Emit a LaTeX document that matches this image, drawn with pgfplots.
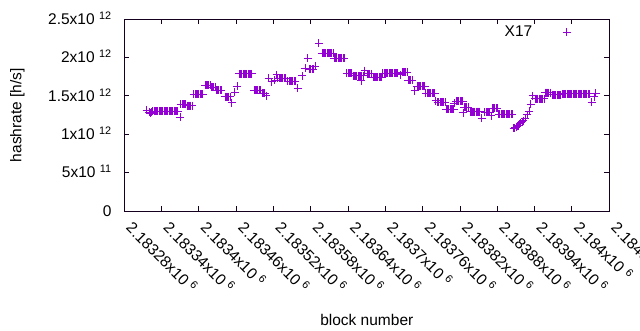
\documentclass[border=0pt]{standalone}
\usepackage{pgfplots}
\pgfplotsset{compat=1.18}
\usepackage{pgfplotstable}
\usepackage{fontspec}
\setmainfont{Liberation Sans}
\definecolor{gpviolet}{RGB}{148,0,211}
\definecolor{gpblack}{RGB}{22,0,32}
\pgfplotstableread{
x y
2183316 1.311e12
2183320 1.290e12
2183322 1.278e12
2183324 1.285e12
2183326 1.304e12
2183328 1.304e12
2183330 1.304e12
2183332 1.304e12
2183334 1.304e12
2183336 1.304e12
2183338 1.304e12
2183340 1.304e12
2183342 1.304e12
2183344 1.304e12
2183346 1.304e12
2183348 1.304e12
2183350 1.304e12
2183352 1.304e12
2183354 1.304e12
2183356 1.304e12
2183358 1.304e12
2183360 1.304e12
2183362 1.304e12
2183364 1.304e12
2183366 1.304e12
2183370 1.222e12
2183371 1.392e12
2183373 1.392e12
2183375 1.392e12
2183377 1.392e12
2183379 1.392e12
2183381 1.373e12
2183383 1.373e12
2183385 1.373e12
2183387 1.373e12
2183389 1.373e12
2183392 1.522e12
2183394 1.522e12
2183396 1.522e12
2183398 1.522e12
2183400 1.522e12
2183402 1.522e12
2183404 1.522e12
2183406 1.522e12
2183410 1.639e12
2183412 1.639e12
2183414 1.639e12
2183416 1.639e12
2183418 1.639e12
2183420 1.613e12
2183422 1.613e12
2183424 1.613e12
2183426 1.613e12
2183428 1.578e12
2183430 1.578e12
2183432 1.578e12
2183434 1.578e12
2183436 1.578e12
2183442 1.491e12
2183444 1.491e12
2183446 1.491e12
2183448 1.491e12
2183450 1.491e12
2183453 1.412e12
2183458 1.548e12
2183462 1.630e12
2183465 1.787e12
2183467 1.787e12
2183469 1.787e12
2183471 1.787e12
2183473 1.787e12
2183475 1.787e12
2183477 1.787e12
2183479 1.787e12
2183481 1.787e12
2183483 1.787e12
2183485 1.787e12
2183489 1.578e12
2183491 1.578e12
2183493 1.578e12
2183495 1.578e12
2183497 1.578e12
2183499 1.578e12
2183502 1.535e12
2183504 1.535e12
2183506 1.535e12
2183508 1.504e12
2183512 1.731e12
2183517 1.686e12
2183522 1.708e12
2183525 1.774e12
2183527 1.731e12
2183529 1.731e12
2183531 1.731e12
2183533 1.731e12
2183535 1.731e12
2183537 1.731e12
2183539 1.731e12
2183543 1.691e12
2183545 1.691e12
2183547 1.691e12
2183549 1.691e12
2183551 1.691e12
2183553 1.691e12
2183555 1.691e12
2183559 1.600e12
2183566 1.761e12
2183571 1.861e12
2183575 1.991e12
2183578 1.848e12
2183580 1.848e12
2183582 1.848e12
2183584 1.848e12
2183587 1.891e12
2183593 2.187e12
2183598 2.057e12
2183600 2.057e12
2183602 2.057e12
2183604 2.057e12
2183606 2.057e12
2183608 2.057e12
2183610 2.057e12
2183612 2.057e12
2183614 2.057e12
2183616 2.057e12
2183618 1.991e12
2183620 1.991e12
2183622 1.991e12
2183624 1.991e12
2183626 1.991e12
2183628 1.991e12
2183630 1.991e12
2183632 1.991e12
2183634 1.991e12
2183638 1.796e12
2183640 1.796e12
2183642 1.796e12
2183644 1.796e12
2183646 1.796e12
2183648 1.761e12
2183650 1.761e12
2183652 1.761e12
2183654 1.761e12
2183656 1.761e12
2183658 1.761e12
2183660 1.761e12
2183661 1.699e12
2183662 1.761e12
2183664 1.761e12
2183667 1.830e12
2183671 1.787e12
2183673 1.787e12
2183675 1.787e12
2183677 1.787e12
2183680 1.744e12
2183682 1.744e12
2183684 1.744e12
2183686 1.744e12
2183688 1.744e12
2183690 1.744e12
2183692 1.744e12
2183694 1.744e12
2183696 1.796e12
2183698 1.796e12
2183700 1.796e12
2183702 1.796e12
2183704 1.796e12
2183706 1.796e12
2183708 1.796e12
2183710 1.796e12
2183712 1.796e12
2183714 1.796e12
2183716 1.796e12
2183718 1.796e12
2183720 1.796e12
2183724 1.775e12
2183727 1.809e12
2183729 1.809e12
2183731 1.809e12
2183733 1.809e12
2183735 1.809e12
2183737 1.705e12
2183739 1.705e12
2183741 1.705e12
2183743 1.705e12
2183747 1.569e12
2183751 1.630e12
2183753 1.630e12
2183755 1.630e12
2183757 1.630e12
2183759 1.630e12
2183761 1.630e12
2183763 1.630e12
2183765 1.535e12
2183767 1.535e12
2183769 1.535e12
2183771 1.535e12
2183773 1.535e12
2183775 1.535e12
2183777 1.535e12
2183779 1.535e12
2183781 1.440e12
2183784 1.418e12
2183786 1.418e12
2183788 1.418e12
2183790 1.418e12
2183792 1.418e12
2183794 1.418e12
2183796 1.418e12
2183798 1.326e12
2183800 1.326e12
2183802 1.326e12
2183804 1.326e12
2183806 1.326e12
2183808 1.326e12
2183810 1.326e12
2183811 1.405e12
2183814 1.431e12
2183816 1.431e12
2183818 1.431e12
2183820 1.431e12
2183822 1.431e12
2183824 1.431e12
2183825 1.282e12
2183827 1.352e12
2183829 1.352e12
2183831 1.352e12
2183833 1.352e12
2183836 1.295e12
2183838 1.295e12
2183840 1.295e12
2183842 1.295e12
2183844 1.295e12
2183846 1.295e12
2183848 1.295e12
2183850 1.295e12
2183852 1.295e12
2183855 1.209e12
2183860 1.285e12
2183862 1.285e12
2183864 1.285e12
2183866 1.285e12
2183868 1.285e12
2183870 1.239e12
2183872 1.339e12
2183874 1.339e12
2183876 1.339e12
2183878 1.339e12
2183880 1.339e12
2183882 1.261e12
2183884 1.261e12
2183886 1.261e12
2183888 1.261e12
2183890 1.261e12
2183892 1.261e12
2183894 1.261e12
2183896 1.261e12
2183898 1.261e12
2183900 1.261e12
2183902 1.261e12
2183904 1.261e12
2183906 1.080e12
2183908 1.085e12
2183910 1.095e12
2183912 1.105e12
2183914 1.115e12
2183916 1.135e12
2183918 1.150e12
2183920 1.165e12
2183922 1.180e12
2183925 1.210e12
2183928 1.258e12
2183931 1.298e12
2183934 1.389e12
2183937 1.500e12
2183941 1.465e12
2183943 1.465e12
2183945 1.465e12
2183947 1.465e12
2183949 1.465e12
2183951 1.465e12
2183953 1.465e12
2183955 1.465e12
2183957 1.545e12
2183959 1.545e12
2183961 1.545e12
2183963 1.545e12
2183965 1.545e12
2183968 1.513e12
2183970 1.513e12
2183972 1.513e12
2183974 1.513e12
2183976 1.513e12
2183978 1.513e12
2183980 1.513e12
2183982 1.513e12
2183984 1.526e12
2183986 1.526e12
2183988 1.526e12
2183990 1.526e12
2183992 1.526e12
2183994 1.526e12
2183996 1.526e12
2183998 1.526e12
2184000 1.526e12
2184002 1.526e12
2184004 1.526e12
2184006 1.526e12
2184008 1.526e12
2184010 1.526e12
2184012 1.526e12
2184014 1.526e12
2184016 1.526e12
2184018 1.526e12
2184020 1.526e12
2184022 1.526e12
2184024 1.526e12
2184026 1.526e12
2184028 1.526e12
2184032 1.418e12
2184036 1.491e12
2184038 1.535e12
}\hashdata
% exact integer offset from block 2183000 (avoids floating-point loss)
\pgfplotstablecreatecol[create col/assign/.code={%
  \getthisrow{x}\entry
  \edef\entry{\the\numexpr\entry-2183000\relax}%
  \pgfkeyslet{/pgfplots/table/create col/next content}\entry
}]{xo}\hashdata
\newcommand{\xl}[1]{#1x10~\smash{\textsuperscript{6}}}
\newcommand{\yl}[2]{#1x10~\smash{\textsuperscript{#2}}}
\begin{document}
\fontsize{15.5}{18}\selectfont
\begin{tikzpicture}
\path[use as bounding box] (-124.3pt,-119pt) rectangle (515.7pt,211pt);
\begin{axis}[
  at={(0pt,0pt)}, anchor=south west,
  scale only axis, width=485pt, height=191.7pt,
  xmin=280, xmax=1060,
  ymin=0, ymax=2.5e12,
  axis lines=box,
  axis line style={line width=1pt, draw=gpblack},
  tick style={line width=1pt, draw=gpblack},
  major tick length=5pt,
  tick align=inside,
  xtick={280,340,400,460,520,580,640,700,760,820,880,940,1000,1060},
  xticklabels={\xl{2.18328},\xl{2.18334},\xl{2.1834},\xl{2.18346},\xl{2.18352},\xl{2.18358},\xl{2.18364},\xl{2.1837},\xl{2.18376},\xl{2.18382},\xl{2.18388},\xl{2.18394},\xl{2.184},\xl{2.18406}},
  ytick={0,5e11,1e12,1.5e12,2e12,2.5e12},
  yticklabels={0,\yl{5}{11},\yl{1}{12},\yl{1.5}{12},\yl{2}{12},\yl{2.5}{12}},
  scaled y ticks=false,
  scaled x ticks=false,
  xticklabel style={xshift=8.7pt, yshift=-10pt, rotate=-45, anchor=north west, inner sep=0pt},
  yticklabel style={anchor=east, inner sep=0pt, xshift=-12.5pt},
  xlabel={block number},
  ylabel={hashrate [h/s]},
  every axis x label/.style={at={(axis description cs:0.5,0)}, anchor=center, yshift=-109pt, inner sep=0pt},
  every axis y label/.style={at={(axis description cs:0,0.5)}, rotate=90, anchor=center, yshift=107pt, inner sep=0pt},
  legend plot pos=right,
  legend cell align=right,
  legend style={draw=none, fill=none, inner sep=0pt, outer sep=0pt,
    column sep=30.5pt, at={(rel axis cs:0.9206,0.9322)}, anchor=east,
    nodes={inner sep=0pt}},
  clip=false,
]
\addplot[only marks, mark=+, mark size=4pt, gpviolet, line width=1pt,
  mark options={line width=1pt}] table[x=xo, y=y] {\hashdata};
\addlegendentry{X17}
\end{axis}
% frame and mirrored ticks as thin filled bars
\fill[gpblack] (-0.5pt,-0.5pt) rectangle (485.5pt,0.5pt);
\fill[gpblack] (-0.5pt,191.2pt) rectangle (485.5pt,192.2pt);
\fill[gpblack] (-0.5pt,-0.5pt) rectangle (0.5pt,192.2pt);
\fill[gpblack] (484.5pt,-0.5pt) rectangle (485.5pt,192.2pt);
\foreach \i in {1,...,12}{
  \fill[gpblack] ({\i*37.3077pt-0.5pt},0pt) rectangle ({\i*37.3077pt+0.5pt},5pt);
  \fill[gpblack] ({\i*37.3077pt-0.5pt},186.7pt) rectangle ({\i*37.3077pt+0.5pt},191.7pt);
}
\foreach \j in {1,...,4}{
  \fill[gpblack] (0pt,{\j*38.34pt-0.5pt}) rectangle (5pt,{\j*38.34pt+0.5pt});
  \fill[gpblack] (480pt,{\j*38.34pt-0.5pt}) rectangle (485pt,{\j*38.34pt+0.5pt});
}
\end{tikzpicture}
\end{document}
